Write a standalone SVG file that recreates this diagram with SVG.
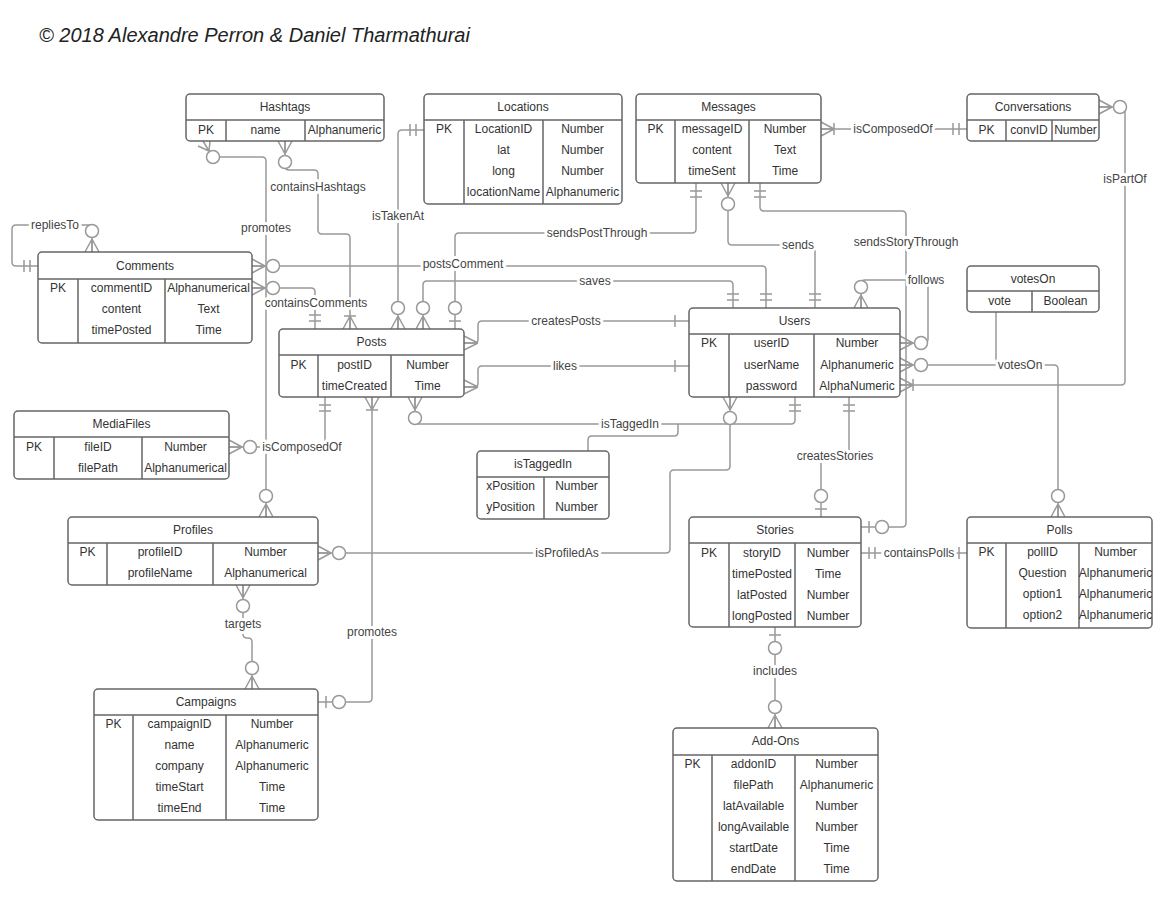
<svg xmlns="http://www.w3.org/2000/svg" width="1164" height="899" viewBox="0 0 1164 899">
<style>
.tb{fill:#fff;stroke:#666;stroke-width:1.5}
.tl{fill:none;stroke:#666;stroke-width:1.5}
.t{font-family:"Liberation Sans",Arial,sans-serif;font-size:12px;fill:#333;text-anchor:middle}
.c{fill:none;stroke:#999;stroke-width:1.5}
.mk{fill:none;stroke:#999;stroke-width:1.5}
.mk circle{fill:#fff}
.lb{font-family:"Liberation Sans",Arial,sans-serif;font-size:12px;fill:#444;text-anchor:middle;stroke:#fff;stroke-width:6;stroke-linejoin:round;paint-order:stroke}
.title{font-family:"Liberation Sans",Arial,sans-serif;font-size:20px;font-style:italic;fill:#222}
</style>
<defs>
<marker id="crowO" markerUnits="userSpaceOnUse" orient="auto-start-reverse" refX="0" refY="0" markerWidth="32" markerHeight="20" viewBox="-30 -10 32 20" overflow="visible">
<g class="mk"><path d="M-13,0 L0,-7 M-13,0 L0,0 M-13,0 L0,7"/><circle cx="-21" cy="0" r="6.5"/></g>
</marker>
<marker id="two" markerUnits="userSpaceOnUse" orient="auto-start-reverse" refX="0" refY="0" markerWidth="32" markerHeight="20" viewBox="-30 -10 32 20" overflow="visible">
<g class="mk"><path d="M-8,-6 V6 M-14,-6 V6"/></g>
</marker>
<marker id="barO" markerUnits="userSpaceOnUse" orient="auto-start-reverse" refX="0" refY="0" markerWidth="32" markerHeight="20" viewBox="-30 -10 32 20" overflow="visible">
<g class="mk"><path d="M-8,-6 V6"/><circle cx="-21" cy="0" r="6.5"/></g>
</marker>
<marker id="barCrow" markerUnits="userSpaceOnUse" orient="auto-start-reverse" refX="0" refY="0" markerWidth="32" markerHeight="20" viewBox="-30 -10 32 20" overflow="visible">
<g class="mk"><path d="M-13,0 L0,-7 M-13,0 L0,0 M-13,0 L0,7 M-13,-6 V6"/></g>
</marker>
<marker id="crow" markerUnits="userSpaceOnUse" orient="auto-start-reverse" refX="0" refY="0" markerWidth="32" markerHeight="20" viewBox="-30 -10 32 20" overflow="visible">
<g class="mk"><path d="M-14,0 L0,-7 M-14,0 L0,0 M-14,0 L0,7"/></g>
</marker>
<marker id="one14" markerUnits="userSpaceOnUse" orient="auto-start-reverse" refX="0" refY="0" markerWidth="32" markerHeight="20" viewBox="-30 -10 32 20" overflow="visible">
<g class="mk"><path d="M-14,-6 V6"/></g>
</marker>
<marker id="one8" markerUnits="userSpaceOnUse" orient="auto-start-reverse" refX="0" refY="0" markerWidth="32" markerHeight="20" viewBox="-30 -10 32 20" overflow="visible">
<g class="mk"><path d="M-8,-6 V6"/></g>
</marker>
</defs>
<rect width="1164" height="899" fill="#fff"/>
<text class="title" x="39" y="42">© 2018 Alexandre Perron &amp; Daniel Tharmathurai</text>

<g id="connectors">
<path class="c" d="M38,266 H16 Q12,266 12,262 V229 Q12,225 16,225 H88 Q92,225 92,229 V252" marker-start="url(#two)" marker-end="url(#crowO)"/>
<path class="c" d="M220,157 H262 Q266,157 266,161 V517" marker-end="url(#crowO)"/>
<g class="mk"><path d="M209,151 L198,146 M209,151 L203,141 M209,151 L210,141"/><circle cx="213" cy="157" r="6.5"/></g>
<path class="c" d="M285,141 V166 Q285,170 289,170 H314 Q318,170 318,174 V230 Q318,234 322,234 H346 Q350,234 350,238 V329" marker-start="url(#crowO)" marker-end="url(#barCrow)"/>
<path class="c" d="M252,266 H762 Q766,266 766,270 V308" marker-start="url(#crowO)" marker-end="url(#two)"/>
<path class="c" d="M252,288 H311 Q315,288 315,292 V329" marker-start="url(#crowO)" marker-end="url(#two)"/>
<path class="c" d="M423,329 V285 Q423,281 427,281 H729 Q733,281 733,285 V308" marker-start="url(#crowO)" marker-end="url(#two)"/>
<path class="c" d="M398,329 V134 Q398,130 402,130 H424" marker-start="url(#crowO)" marker-end="url(#two)"/>
<path class="c" d="M455,329 V237 Q455,233 459,233 H692 Q696,233 696,229 V183" marker-start="url(#barO)" marker-end="url(#two)"/>
<path class="c" d="M728,183 V241 Q728,245 732,245 H811 Q815,245 815,249 V308" marker-start="url(#crowO)" marker-end="url(#two)"/>
<path class="c" d="M760,183 V207 Q760,211 764,211 H902 Q906,211 906,215 V523 Q906,527 902,527 H861" marker-start="url(#two)" marker-end="url(#barO)"/>
<path class="c" d="M861,308 V284 Q861,280 865,280 H924 Q928,280 928,284 V339 Q928,343 924,343 H900" marker-start="url(#crowO)" marker-end="url(#crowO)"/>
<path class="c" d="M900,365 H1054 Q1058,365 1058,369 V517" marker-start="url(#crowO)" marker-end="url(#crowO)"/>
<path class="c" d="M996,312 V365"/>
<path class="c" d="M1099,107 H1121 Q1125,107 1125,111 V381 Q1125,385 1121,385 H900" marker-start="url(#crowO)" marker-end="url(#barCrow)"/>
<path class="c" d="M821,129 H967" marker-start="url(#barCrow)" marker-end="url(#two)"/>
<path class="c" d="M464,343 H474 Q478,343 478,339 V325 Q478,321 482,321 H689" marker-start="url(#crow)" marker-end="url(#one14)"/>
<path class="c" d="M464,387 H474 Q478,387 478,383 V370 Q478,366 482,366 H689" marker-start="url(#crow)" marker-end="url(#one14)"/>
<path class="c" d="M415,397 V420 Q415,424 419,424 H791 Q795,424 795,420 V397" marker-start="url(#crowO)" marker-end="url(#two)"/>
<path class="c" d="M678,424 V432 Q678,436 674,436 H592 Q588,436 588,440 V451"/>
<path class="c" d="M318,553 H666 Q670,553 670,549 V474 Q670,470 674,470 H726 Q730,470 730,466 V397" marker-start="url(#crowO)" marker-end="url(#crowO)"/>
<path class="c" d="M229,447 H321 Q325,447 325,443 V397" marker-start="url(#crowO)" marker-end="url(#two)"/>
<path class="c" d="M372,397 V698 Q372,702 368,702 H318" marker-start="url(#barCrow)" marker-end="url(#barO)"/>
<path class="c" d="M243,585 V634 Q243,638 247,638 H248 Q252,638 252,642 V689" marker-start="url(#crowO)" marker-end="url(#crowO)"/>
<path class="c" d="M849,397 V456 H821 V517" marker-start="url(#two)" marker-end="url(#barO)"/>
<path class="c" d="M861,553 H967" marker-start="url(#two)" marker-end="url(#one8)"/>
<path class="c" d="M775,627 V728" marker-start="url(#barO)" marker-end="url(#crowO)"/>
<g id="labels">
<text class="lb" x="55" y="229">repliesTo</text>
<text class="lb" x="266" y="232">promotes</text>
<text class="lb" x="318" y="191">containsHashtags</text>
<text class="lb" x="463" y="268">postsComment</text>
<text class="lb" x="316" y="307">containsComments</text>
<text class="lb" x="595" y="285">saves</text>
<text class="lb" x="398" y="220">isTakenAt</text>
<text class="lb" x="597" y="237">sendsPostThrough</text>
<text class="lb" x="798" y="249">sends</text>
<text class="lb" x="906" y="246">sendsStoryThrough</text>
<text class="lb" x="926" y="284">follows</text>
<text class="lb" x="1020" y="369">votesOn</text>
<text class="lb" x="1125" y="183">isPartOf</text>
<text class="lb" x="893" y="133">isComposedOf</text>
<text class="lb" x="566" y="325">createsPosts</text>
<text class="lb" x="565" y="370">likes</text>
<text class="lb" x="630" y="428">isTaggedIn</text>
<text class="lb" x="567" y="557">isProfiledAs</text>
<text class="lb" x="302" y="451">isComposedOf</text>
<text class="lb" x="372" y="636">promotes</text>
<text class="lb" x="243" y="628">targets</text>
<text class="lb" x="835" y="460">createsStories</text>
<text class="lb" x="919" y="557">containsPolls</text>
<text class="lb" x="775" y="675">includes</text>
</g>
</g>

<g id="Hashtags">
<rect class="tb" x="186" y="94" width="198" height="47" rx="4"/>
<path class="tl" d="M186,120 H384 M226,120 V141 M305,120 V141"/>
<text class="t" x="285" y="111">Hashtags</text>
<text class="t" x="206" y="134">PK</text><text class="t" x="265.5" y="134">name</text><text class="t" x="344.5" y="134">Alphanumeric</text>
</g>
<g id="Locations">
<rect class="tb" x="424" y="94" width="198" height="110" rx="4"/>
<path class="tl" d="M424,120 H622 M464,120 V204 M543,120 V204"/>
<text class="t" x="523" y="111">Locations</text>
<text class="t" x="444" y="133">PK</text>
<text class="t" x="503.5" y="133">LocationID</text><text class="t" x="582.5" y="133">Number</text>
<text class="t" x="503.5" y="154">lat</text><text class="t" x="582.5" y="154">Number</text>
<text class="t" x="503.5" y="175">long</text><text class="t" x="582.5" y="175">Number</text>
<text class="t" x="503.5" y="196">locationName</text><text class="t" x="582.5" y="196">Alphanumeric</text>
</g>
<g id="Messages">
<rect class="tb" x="636" y="94" width="185" height="89" rx="4"/>
<path class="tl" d="M636,120 H821 M675,120 V183 M749,120 V183"/>
<text class="t" x="728.5" y="111">Messages</text>
<text class="t" x="655.5" y="133">PK</text>
<text class="t" x="712" y="133">messageID</text><text class="t" x="785" y="133">Number</text>
<text class="t" x="712" y="154">content</text><text class="t" x="785" y="154">Text</text>
<text class="t" x="712" y="175">timeSent</text><text class="t" x="785" y="175">Time</text>
</g>
<g id="Conversations">
<rect class="tb" x="967" y="94" width="132" height="47" rx="4"/>
<path class="tl" d="M967,120 H1099 M1006,120 V141 M1052,120 V141"/>
<text class="t" x="1033" y="111">Conversations</text>
<text class="t" x="986.5" y="134">PK</text><text class="t" x="1029" y="134">convID</text><text class="t" x="1075.5" y="134">Number</text>
</g>
<g id="Comments">
<rect class="tb" x="38" y="252" width="214" height="91" rx="4"/>
<path class="tl" d="M38,279 H252 M78,279 V343 M165,279 V343"/>
<text class="t" x="145" y="270">Comments</text>
<text class="t" x="58" y="292">PK</text>
<text class="t" x="121.5" y="292">commentID</text><text class="t" x="208.5" y="292">Alphanumerical</text>
<text class="t" x="121.5" y="313">content</text><text class="t" x="208.5" y="313">Text</text>
<text class="t" x="121.5" y="334">timePosted</text><text class="t" x="208.5" y="334">Time</text>
</g>
<g id="Posts">
<rect class="tb" x="279" y="329" width="185" height="68" rx="4"/>
<path class="tl" d="M279,355 H464 M318,355 V397 M391,355 V397"/>
<text class="t" x="371.5" y="346">Posts</text>
<text class="t" x="298.5" y="369">PK</text>
<text class="t" x="354.5" y="369">postID</text><text class="t" x="427.5" y="369">Number</text>
<text class="t" x="354.5" y="390">timeCreated</text><text class="t" x="427.5" y="390">Time</text>
</g>
<g id="Users">
<rect class="tb" x="689" y="308" width="211" height="89" rx="4"/>
<path class="tl" d="M689,334 H900 M729,334 V397 M814,334 V397"/>
<text class="t" x="794.5" y="325">Users</text>
<text class="t" x="709" y="347">PK</text>
<text class="t" x="771.5" y="347">userID</text><text class="t" x="857" y="347">Number</text>
<text class="t" x="771.5" y="369">userName</text><text class="t" x="857" y="369">Alphanumeric</text>
<text class="t" x="771.5" y="390">password</text><text class="t" x="857" y="390">AlphaNumeric</text>
</g>
<g id="votesOn">
<rect class="tb" x="967" y="266" width="132" height="46" rx="4"/>
<path class="tl" d="M967,291 H1099 M1032,291 V312"/>
<text class="t" x="1033" y="283">votesOn</text>
<text class="t" x="999.5" y="305">vote</text><text class="t" x="1065.5" y="305">Boolean</text>
</g>
<g id="MediaFiles">
<rect class="tb" x="14" y="411" width="215" height="68" rx="4"/>
<path class="tl" d="M14,437 H229 M54,437 V479 M142,437 V479"/>
<text class="t" x="121.5" y="428">MediaFiles</text>
<text class="t" x="34" y="451">PK</text>
<text class="t" x="98" y="451">fileID</text><text class="t" x="185.5" y="451">Number</text>
<text class="t" x="98" y="472">filePath</text><text class="t" x="185.5" y="472">Alphanumerical</text>
</g>
<g id="Profiles">
<rect class="tb" x="68" y="517" width="250" height="68" rx="4"/>
<path class="tl" d="M68,543 H318 M107,543 V585 M213,543 V585"/>
<text class="t" x="193" y="534">Profiles</text>
<text class="t" x="87.5" y="556">PK</text>
<text class="t" x="160" y="556">profileID</text><text class="t" x="265.5" y="556">Number</text>
<text class="t" x="160" y="577">profileName</text><text class="t" x="265.5" y="577">Alphanumerical</text>
</g>
<g id="isTaggedIn">
<rect class="tb" x="477" y="451" width="132" height="68" rx="4"/>
<path class="tl" d="M477,477 H609 M544,477 V519"/>
<text class="t" x="543" y="468">isTaggedIn</text>
<text class="t" x="510.5" y="490">xPosition</text><text class="t" x="576.5" y="490">Number</text>
<text class="t" x="510.5" y="511">yPosition</text><text class="t" x="576.5" y="511">Number</text>
</g>
<g id="Stories">
<rect class="tb" x="689" y="517" width="172" height="110" rx="4"/>
<path class="tl" d="M689,543 H861 M729,543 V627 M795,543 V627"/>
<text class="t" x="775" y="534">Stories</text>
<text class="t" x="709" y="557">PK</text>
<text class="t" x="762" y="557">storyID</text><text class="t" x="828" y="557">Number</text>
<text class="t" x="762" y="578">timePosted</text><text class="t" x="828" y="578">Time</text>
<text class="t" x="762" y="599">latPosted</text><text class="t" x="828" y="599">Number</text>
<text class="t" x="762" y="620">longPosted</text><text class="t" x="828" y="620">Number</text>
</g>
<g id="Polls">
<rect class="tb" x="967" y="517" width="185" height="111" rx="4"/>
<path class="tl" d="M967,543 H1152 M1006,543 V628 M1079,543 V628"/>
<text class="t" x="1059.5" y="534">Polls</text>
<text class="t" x="986.5" y="556">PK</text>
<text class="t" x="1042.5" y="556">pollID</text><text class="t" x="1115.5" y="556">Number</text>
<text class="t" x="1042.5" y="577">Question</text><text class="t" x="1115.5" y="577">Alphanumeric</text>
<text class="t" x="1042.5" y="598">option1</text><text class="t" x="1115.5" y="598">Alphanumeric</text>
<text class="t" x="1042.5" y="619">option2</text><text class="t" x="1115.5" y="619">Alphanumeric</text>
</g>
<g id="Campaigns">
<rect class="tb" x="94" y="689" width="224" height="131" rx="4"/>
<path class="tl" d="M94,715 H318 M133,715 V820 M226,715 V820"/>
<text class="t" x="206" y="706">Campaigns</text>
<text class="t" x="113.5" y="728">PK</text>
<text class="t" x="179.5" y="728">campaignID</text><text class="t" x="272" y="728">Number</text>
<text class="t" x="179.5" y="749">name</text><text class="t" x="272" y="749">Alphanumeric</text>
<text class="t" x="179.5" y="770">company</text><text class="t" x="272" y="770">Alphanumeric</text>
<text class="t" x="179.5" y="791">timeStart</text><text class="t" x="272" y="791">Time</text>
<text class="t" x="179.5" y="812">timeEnd</text><text class="t" x="272" y="812">Time</text>
</g>
<g id="Add-Ons">
<rect class="tb" x="673" y="728" width="205" height="153" rx="4"/>
<path class="tl" d="M673,755 H878 M712,755 V881 M795,755 V881"/>
<text class="t" x="775.5" y="745">Add-Ons</text>
<text class="t" x="692.5" y="768">PK</text>
<text class="t" x="753.5" y="768">addonID</text><text class="t" x="836.5" y="768">Number</text>
<text class="t" x="753.5" y="789">filePath</text><text class="t" x="836.5" y="789">Alphanumeric</text>
<text class="t" x="753.5" y="810">latAvailable</text><text class="t" x="836.5" y="810">Number</text>
<text class="t" x="753.5" y="831">longAvailable</text><text class="t" x="836.5" y="831">Number</text>
<text class="t" x="753.5" y="852">startDate</text><text class="t" x="836.5" y="852">Time</text>
<text class="t" x="753.5" y="873">endDate</text><text class="t" x="836.5" y="873">Time</text>
</g>
</svg>
